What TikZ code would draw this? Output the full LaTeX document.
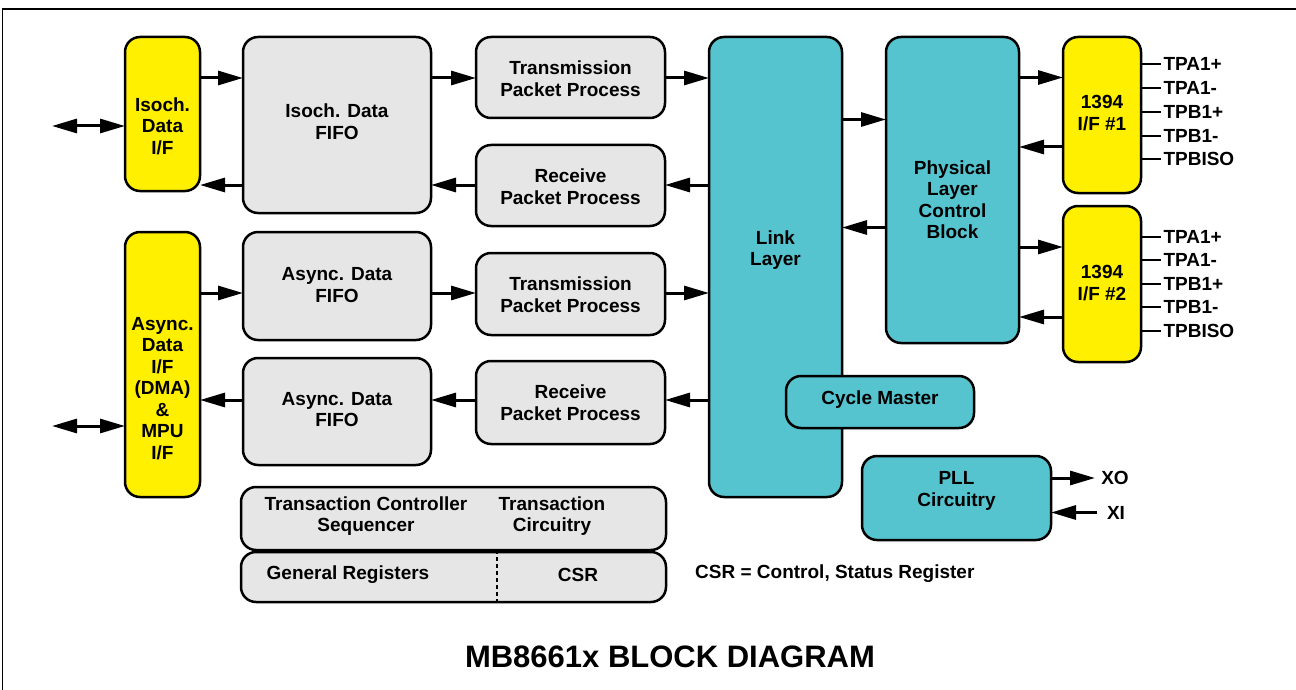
\documentclass[tikz,border=0pt]{standalone}
\usepackage{fontspec}
\setmainfont{Liberation Sans}
\usetikzlibrary{arrows.meta}
\definecolor{yel}{RGB}{255,240,0}
\definecolor{tealb}{RGB}{85,196,207}
\definecolor{grayb}{RGB}{230,230,230}
\tikzset{
  box/.style={draw=black, line width=2.5pt, rounded corners=15pt, inner sep=0pt, outer sep=0pt},
  ybox/.style={box, fill=yel},
  gbox/.style={box, fill=grayb},
  tbox/.style={box, fill=tealb},
  txt/.style={align=center, inner sep=0pt, font=\fontsize{19}{21.5}\selectfont\bfseries},
  arr/.style={line width=3pt, -{Triangle[length=25pt,width=14pt]}},
  darr/.style={line width=3pt, {Triangle[length=25pt,width=14pt]}-{Triangle[length=25pt,width=14pt]}},
  pinline/.style={line width=2pt},
}
\begin{document}
\begin{tikzpicture}[x=1pt,y=-1pt]
\useasboundingbox (0,0) rectangle (1296,690);
% frame
\draw[line width=1.5pt] (2.5,690) -- (2.5,9) -- (1296,9);

% boxes
\node[ybox, minimum width=75, minimum height=154] (isoif) at (162.5,114) {};
\node[ybox, minimum width=75, minimum height=265] (asyif) at (162.5,364.5) {};
\node[gbox, minimum width=188, minimum height=176] (isofifo) at (337,125) {};
\node[gbox, minimum width=188, minimum height=108] (afifo1) at (337,286) {};
\node[gbox, minimum width=188, minimum height=107] (afifo2) at (337,411.5) {};
\node[gbox, minimum width=189, minimum height=81] (tpp1) at (570.5,77.5) {};
\node[gbox, minimum width=189, minimum height=81] (rpp1) at (570.5,185.5) {};
\node[gbox, minimum width=189, minimum height=82] (tpp2) at (570.5,294) {};
\node[gbox, minimum width=189, minimum height=83] (rpp2) at (570.5,402.5) {};
\node[tbox, minimum width=133, minimum height=460] (link) at (775.5,267) {};
\node[tbox, minimum width=133, minimum height=306] (phy) at (952.5,190) {};
\node[ybox, minimum width=78, minimum height=156] (if1) at (1102,115) {};
\node[ybox, minimum width=78, minimum height=156] (if2) at (1102,284) {};
\node[tbox, minimum width=188, minimum height=52] (cyc) at (880,402) {};
\node[tbox, minimum width=189, minimum height=84] (pll) at (956.5,498) {};
\node[gbox, minimum width=425, minimum height=63] (trans) at (453.5,518.5) {};
\node[gbox, minimum width=425, minimum height=50] (regs) at (453.5,577) {};
\draw[line width=1.5pt, dash pattern=on 4pt off 3pt] (trans.south -| 497,0) coordinate (dtop) -- (regs.south -| 497,0) coordinate (dbot);

% texts
\node[txt] (isoift) at (162.5,126) {Isoch.\\Data\\I/F};
\node[txt] (asyift) at (162.5,388.5) {Async.\\Data\\I/F\\(DMA)\\\&\\MPU\\I/F};
\node[txt] (isofifot) at (337,121.5) {Isoch. Data\\FIFO};
\node[txt] (afifo1t) at (337,285) {Async. Data\\FIFO};
\node[txt] (afifo2t) at (337,409.5) {Async. Data\\FIFO};
\node[txt] (tpp1t) at (570.5,78.5) {Transmission\\Packet Process};
\node[txt] (rpp1t) at (570.5,186.5) {Receive\\Packet Process};
\node[txt] (tpp2t) at (570.5,294.5) {Transmission\\Packet Process};
\node[txt] (rpp2t) at (570.5,402.5) {Receive\\Packet Process};
\node[txt] (linkt) at (775.5,250) {Link\\Layer};
\node[txt] (phyt) at (952.5,199.5) {Physical\\Layer\\Control\\Block};
\node[txt] (if1t) at (1102,113) {1394\\I/F \#1};
\node[txt] (if2t) at (1102,283) {1394\\I/F \#2};
\node[txt] (cyct) at (880,400) {Cycle Master};
\node[txt] (pllt) at (956.5,491) {PLL\\Circuitry};
\node[txt] (transl) at (366,516) {Transaction Controller\\Sequencer};
\node[txt] (transr) at (552,516) {Transaction\\Circuitry};
\node[txt] (regl) at (348,575) {General Registers};
\node[txt] (regr) at (578,575) {CSR};
\node[txt, anchor=west] (note) at (695,574) {CSR = Control, Status Register};
\node[inner sep=0pt, font=\fontsize{31}{36}\selectfont\bfseries] (title) at (670,657) {MB8661x BLOCK DIAGRAM};

% left external arrows
\coordinate (ext1) at (52,126);
\coordinate (ext2) at (52,426);
\draw[darr] (ext1) -- (isoif.west |- ext1);
\draw[darr] (ext2) -- (asyif.west |- ext2);

% isoch path
\draw[arr] (isoif.east |- 0,78) -- (isofifo.west |- 0,78);
\draw[arr] (isofifo.west |- 0,185) -- (isoif.east |- 0,185);
\draw[arr] (isofifo.east |- 0,78) -- (tpp1.west |- 0,78);
\draw[arr] (rpp1.west |- 0,185) -- (isofifo.east |- 0,185);
\draw[arr] (tpp1.east |- 0,78) -- (link.west |- 0,78);
\draw[arr] (link.west |- 0,185) -- (rpp1.east |- 0,185);

% async path
\draw[arr] (asyif.east |- 0,293) -- (afifo1.west |- 0,293);
\draw[arr] (afifo1.east |- 0,293) -- (tpp2.west |- 0,293);
\draw[arr] (tpp2.east |- 0,293) -- (link.west |- 0,293);
\draw[arr] (link.west |- 0,400) -- (rpp2.east |- 0,400);
\draw[arr] (rpp2.west |- 0,400) -- (afifo2.east |- 0,400);
\draw[arr] (afifo2.west |- 0,400) -- (asyif.east |- 0,400);

% link <-> phy
\draw[arr] (link.east |- 0,119.5) -- (phy.west |- 0,119.5);
\draw[arr] (phy.west |- 0,227.5) -- (link.east |- 0,227.5);

% phy <-> 1394
\draw[arr] (phy.east |- 0,77.5) -- (if1.west |- 0,77.5);
\draw[arr] (if1.west |- 0,147) -- (phy.east |- 0,147);
\draw[arr] (phy.east |- 0,247) -- (if2.west |- 0,247);
\draw[arr] (if2.west |- 0,317) -- (phy.east |- 0,317);

% pins
\foreach \y/\t/\n in {64/TPA1+/a, 88/TPA1-/b, 112/TPB1+/c, 136/TPB1-/d, 159/TPBISO/e}{
  \draw[pinline] (if1.east |- 0,\y) -- ++(20,0) node[txt, anchor=west, inner sep=1.5pt] (p1\n) {\t};
}
\foreach \y/\t/\n in {236.5/TPA1+/a, 260/TPA1-/b, 283.5/TPB1+/c, 307/TPB1-/d, 330.5/TPBISO/e}{
  \draw[pinline] (if2.east |- 0,\y) -- ++(20,0) node[txt, anchor=west, inner sep=1.5pt] (p2\n) {\t};
}

% PLL
\node[txt] (xo) at (1115,478) {XO};
\node[txt] (xi) at (1116,512.5) {XI};
\coordinate (xoend) at (1095,478);
\coordinate (xistart) at (1097,512.5);
\draw[arr] (pll.east |- xoend) -- (xoend);
\draw[arr] (xistart) -- (pll.east |- xistart);
\end{tikzpicture}
\end{document}
